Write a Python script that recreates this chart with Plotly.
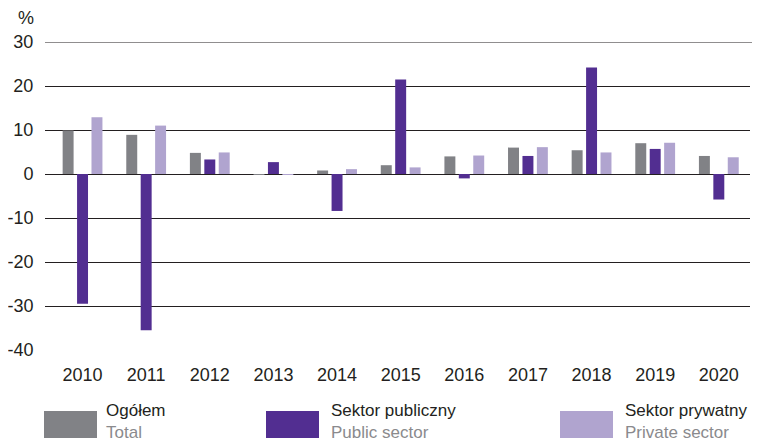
import plotly.graph_objects as go

years = ["2010", "2011", "2012", "2013", "2014", "2015", "2016", "2017", "2018", "2019", "2020"]
total = [9.9, 8.9, 4.8, -0.1, 0.8, 2.0, 4.0, 6.0, 5.4, 7.0, 4.1]
public = [-29.5, -35.5, 3.3, 2.7, -8.4, 21.5, -1.0, 4.1, 24.2, 5.7, -5.8]
private = [12.9, 11.0, 4.9, -0.1, 1.1, 1.5, 4.2, 6.1, 4.9, 7.1, 3.8]

series_pl = ["Ogółem", "Sektor publiczny", "Sektor prywatny"]
series_en = ["Total", "Public sector", "Private sector"]
colors = ["#818286", "#522e91", "#b0a4cf"]
y_ticks = [30, 20, 10, 0, -10, -20, -30, -40]
y_ticktext = ["30", "20", "10", "0", "-10", "-20", "-30", "-40"]

# page has an 8px body margin; figure drawn at (8, 8)
OFF = 8
W, H = 760 - OFF, 442 - OFF
L, T = 45 - OFF, 42 - OFF
R = W - (750 - OFF)
B = H - (350 - OFF)
pw, ph = W - L - R, H - T - B

def px(x):
    return (x - OFF - L) / pw

def py(y):
    return (H - B - (y - OFF)) / ph

FS = 18
fig = go.Figure()
for name, vals, c in zip(series_pl, [total, public, private], colors):
    fig.add_trace(go.Bar(x=years, y=vals, name=name, marker=dict(color=c, line=dict(width=0))))

fig.update_layout(
    width=W, height=H,
    margin=dict(l=L, r=R, t=T, b=B, autoexpand=False),
    plot_bgcolor="white", paper_bgcolor="white",
    barmode="group", bargap=0.32, bargroupgap=0.24,
    showlegend=False,
    font=dict(family="Liberation Sans, Arial, sans-serif", size=FS, color="#231f20"),
    xaxis=dict(type="category", range=[-0.59, 10.49], showgrid=False, zeroline=False,
               showline=False, ticks="outside", ticklen=8, tickcolor="rgba(0,0,0,0)",
               automargin=False, tickfont=dict(size=FS, color="#231f20")),
    yaxis=dict(range=[-40, 30], tickvals=y_ticks, ticktext=y_ticktext, showgrid=True,
               gridcolor="#231f20", gridwidth=1, zeroline=True, zerolinecolor="#231f20",
               zerolinewidth=1, showline=False, ticks="outside", ticklen=7,
               tickcolor="rgba(0,0,0,0)", automargin=False,
               tickfont=dict(size=FS, color="#231f20")),
)

fig.add_shape(type="line", xref="paper", yref="y", x0=0, x1=px(760), y0=30, y1=30,
              line=dict(color="#231f20", width=1))

fig.add_annotation(text="%", xref="paper", yref="paper", x=px(26), y=py(18),
                   showarrow=False, xanchor="center", yanchor="middle",
                   font=dict(size=FS, color="#231f20"))

LF = 17
sq_x = [44, 266, 560]
tx_x = [105, 330, 624]
for i in range(3):
    fig.add_shape(type="rect", xref="paper", yref="paper",
                  x0=px(sq_x[i]), x1=px(sq_x[i] + 53), y0=py(411), y1=py(438),
                  fillcolor=colors[i], line=dict(width=0))
    fig.add_annotation(text=f"{series_pl[i]}<br><span style='color:#8a8a8d'>{series_en[i]}</span>",
                       xref="paper", yref="paper", x=px(tx_x[i]), y=py(421),
                       showarrow=False, xanchor="left", yanchor="middle", align="left",
                       borderpad=0, font=dict(size=LF, color="#231f20"))

fig.write_html("out.html")
